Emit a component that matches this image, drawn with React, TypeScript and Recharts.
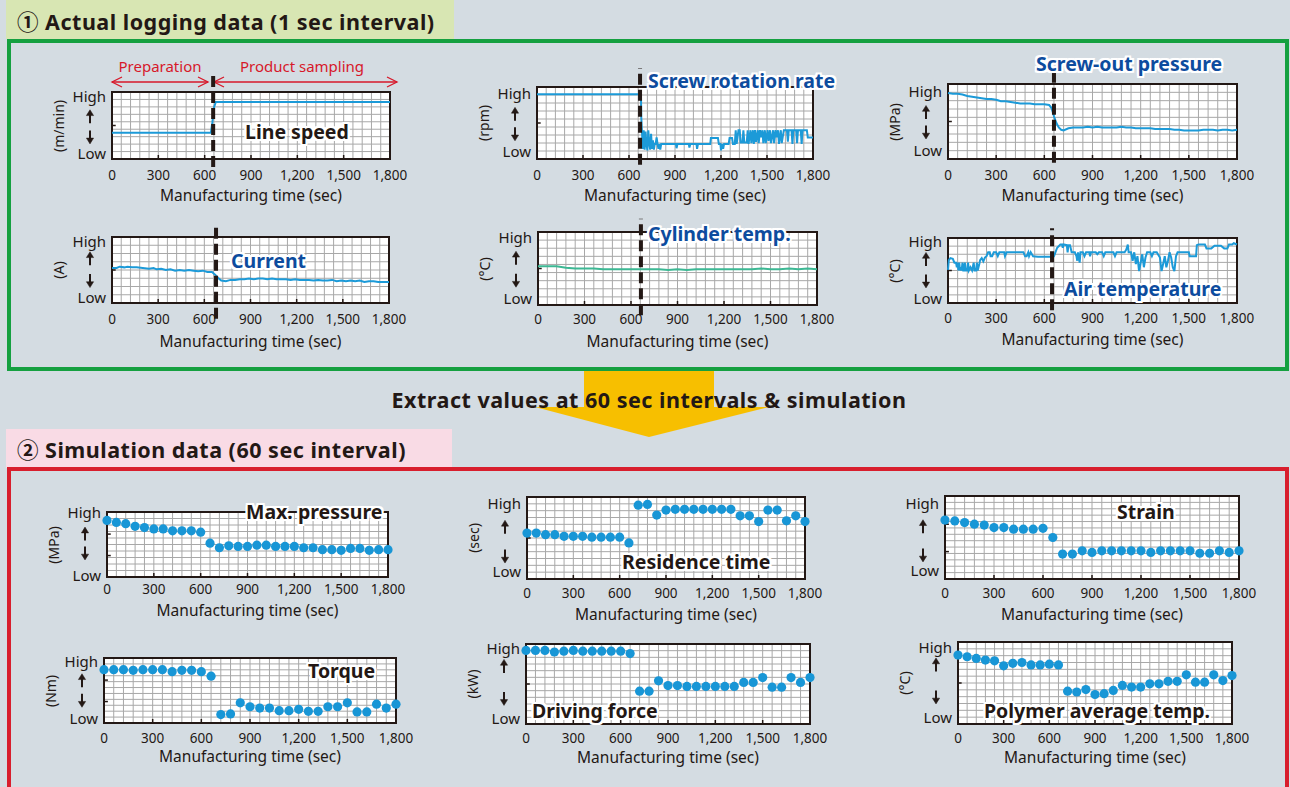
import React from 'react';
import { ComposedChart, Line, Scatter, XAxis, YAxis, CartesianGrid, ReferenceLine, ReferenceArea } from 'recharts';

const INK = '#231815';
const LINE_BLUE = '#1c9ad8';
const LINE_TEAL = '#3db894';
const DOT = '#1896d6';
const TITLE_BLUE = '#0d4c9e';
const FONT = '"Noto Sans", "Noto Sans CJK JP", sans-serif';

const xTicks = [0, 300, 600, 900, 1200, 1500, 1800];

// logging series, [sec, level] with 0 = Low and 100 = High
const lineSpeed: [number, number][] = [[0, 39], [640, 39], [650, 55], [662, 78], [672, 85], [1800, 85]];

const screwRate: [number, number][] = [
  [0, 90], [678, 90], [680, 58], [684, 40], [690, 14], [696, 40], [702, 13], [708, 38], [714, 20], [720, 12],
  [726, 40], [732, 22], [738, 13], [744, 35], [750, 14], [756, 26], [762, 13], [768, 21], [774, 21], [780, 30],
  [786, 21], [792, 14], [798, 21], [804, 13], [810, 21], [906, 21], [910, 15], [916, 21], [990, 21], [994, 16],
  [1000, 21], [1040, 21], [1044, 14], [1050, 21], [1130, 21], [1134, 29], [1180, 29], [1186, 21], [1196, 21],
  [1200, 12], [1208, 21], [1214, 14], [1220, 21], [1250, 21], [1256, 29], [1272, 29], [1278, 21], [1290, 21],
  [1296, 40], [1302, 21], [1314, 40], [1322, 40], [1328, 23], [1340, 23], [1346, 40], [1352, 23], [1368, 23],
  [1374, 40], [1380, 21], [1392, 40], [1398, 22], [1408, 40], [1414, 21], [1422, 40], [1428, 24], [1440, 40],
  [1446, 22], [1454, 40], [1460, 30], [1470, 40], [1476, 22], [1486, 40], [1492, 22], [1504, 40], [1510, 25],
  [1520, 40], [1526, 22], [1540, 40], [1546, 22], [1556, 40], [1562, 30], [1572, 40], [1578, 21], [1590, 40],
  [1596, 22], [1610, 40], [1630, 40], [1636, 24], [1642, 40], [1660, 40], [1666, 21], [1672, 40], [1690, 40],
  [1696, 22], [1702, 40], [1720, 40], [1726, 21], [1732, 40], [1760, 40], [1766, 30], [1800, 30],
];

const screwOut: [number, number][] = [
  [0, 88], [30, 87], [60, 87], [90, 86], [120, 84], [150, 83], [180, 82], [210, 81], [240, 80], [270, 80],
  [300, 79], [330, 77], [360, 77], [390, 76], [420, 75], [450, 74], [480, 74], [510, 74], [540, 73], [570, 73],
  [600, 73], [630, 72], [645, 68], [660, 57], [675, 48], [690, 42], [705, 39], [720, 38], [750, 41], [780, 42],
  [810, 42], [840, 42], [870, 43], [900, 42], [930, 43], [960, 42], [990, 42], [1020, 42], [1050, 42], [1080, 43],
  [1110, 42], [1140, 42], [1170, 41], [1200, 41], [1230, 41], [1260, 41], [1290, 40], [1320, 40], [1350, 40],
  [1380, 40], [1410, 39], [1440, 39], [1470, 38], [1500, 38], [1530, 38], [1560, 38], [1590, 39], [1620, 39],
  [1650, 39], [1680, 38], [1710, 39], [1740, 39], [1770, 38], [1800, 39],
];

const current: [number, number][] = [
  [0, 53], [30, 53], [50, 55], [80, 54], [100, 55], [130, 54], [160, 54], [200, 53], [240, 52], [270, 53],
  [290, 51], [320, 52], [350, 50], [380, 51], [410, 49], [440, 50], [470, 49], [500, 50], [530, 49], [560, 48],
  [590, 49], [620, 47], [650, 47], [670, 43], [690, 38], [710, 34], [740, 33], [770, 35], [800, 35], [830, 36],
  [860, 36], [890, 37], [920, 36], [950, 37], [980, 37], [1010, 36], [1040, 37], [1070, 36], [1100, 36], [1130, 36],
  [1160, 35], [1190, 36], [1220, 35], [1250, 35], [1280, 35], [1310, 34], [1340, 35], [1370, 34], [1400, 34],
  [1430, 35], [1460, 33], [1490, 34], [1520, 33], [1550, 34], [1580, 33], [1610, 34], [1640, 32], [1670, 33],
  [1700, 33], [1730, 32], [1760, 32], [1800, 32],
];

const cylinderTemp: [number, number][] = [
  [0, 53], [60, 53], [120, 53], [150, 52], [180, 51], [240, 50], [300, 50], [360, 50], [420, 49], [480, 49],
  [540, 49], [600, 49], [660, 49], [720, 49], [780, 49], [840, 48], [900, 49], [960, 48], [1020, 49], [1080, 49],
  [1140, 49], [1200, 49], [1260, 49], [1320, 49], [1380, 49], [1440, 50], [1500, 49], [1560, 49], [1620, 50],
  [1680, 49], [1740, 50], [1800, 49],
];

const airTemp: [number, number][] = [
  [0, 51], [5, 66], [15, 69], [30, 68], [40, 62], [50, 62], [55, 55], [60, 62], [65, 50], [70, 62], [75, 50],
  [80, 55], [85, 50], [90, 62], [95, 50], [100, 50], [105, 62], [110, 50], [120, 50], [125, 62], [130, 50],
  [140, 55], [150, 50], [160, 62], [165, 50], [175, 50], [180, 62], [185, 50], [195, 60], [200, 66], [210, 69],
  [220, 64], [230, 70], [240, 72], [250, 78], [260, 78], [265, 72], [275, 72], [285, 78], [300, 78], [310, 72],
  [320, 78], [350, 78], [355, 72], [365, 78], [440, 78], [470, 78], [480, 72], [490, 72], [500, 78], [505, 72],
  [515, 78], [530, 72], [560, 71], [640, 71], [650, 72], [660, 72], [680, 85], [700, 90], [710, 90], [715, 85],
  [720, 90], [740, 89], [745, 78], [750, 89], [760, 89], [770, 78], [790, 78], [800, 72], [805, 65], [810, 78],
  [820, 62], [825, 78], [840, 78], [850, 72], [860, 78], [880, 78], [885, 72], [890, 78], [920, 78], [930, 75],
  [940, 78], [960, 78], [970, 72], [980, 78], [1030, 78], [1040, 72], [1050, 78], [1100, 78], [1110, 82],
  [1120, 90], [1125, 78], [1140, 78], [1150, 65], [1160, 78], [1170, 60], [1180, 72], [1190, 49], [1200, 62],
  [1210, 75], [1220, 55], [1230, 70], [1240, 78], [1260, 78], [1270, 72], [1280, 78], [1300, 78], [1320, 70],
  [1330, 49], [1340, 60], [1350, 72], [1360, 55], [1370, 65], [1380, 78], [1390, 70], [1400, 55], [1410, 49],
  [1420, 72], [1430, 78], [1500, 78], [1505, 72], [1545, 72], [1550, 89], [1560, 90], [1600, 90], [1610, 84],
  [1640, 84], [1660, 88], [1700, 88], [1720, 84], [1740, 84], [1750, 90], [1770, 90], [1780, 92], [1800, 90],
];

// simulation results every 60 sec
const simTime = [0, 60, 120, 180, 240, 300, 360, 420, 480, 540, 600, 660, 720, 780, 840, 900, 960, 1020, 1080, 1140, 1200, 1260, 1320, 1380, 1440, 1500, 1560, 1620, 1680, 1740, 1800];
const maxPressure = [87, 84, 82, 78, 76, 74, 74, 71, 71, 71, 69, 52, 45, 48, 47, 47, 49, 49, 47, 47, 47, 45, 45, 42, 42, 41, 44, 44, 41, 42, 42];
const residenceTime = [56, 56, 54, 54, 52, 52, 52, 51, 51, 51, 51, 44, 90, 91, 78, 84, 85, 85, 85, 85, 85, 85, 85, 77, 77, 70, 84, 84, 71, 77, 70];
const strain = [71, 70, 68, 66, 65, 62, 62, 60, 60, 60, 61, 50, 30, 30, 34, 32, 34, 34, 34, 34, 34, 32, 34, 34, 34, 34, 31, 31, 34, 32, 34];
const torque = [82, 82, 82, 81, 82, 82, 82, 79, 81, 81, 79, 72, 13, 14, 31, 25, 23, 23, 19, 19, 21, 18, 18, 25, 25, 31, 17, 17, 29, 23, 29];
const drivingForce = [92, 92, 92, 90, 91, 92, 91, 91, 91, 91, 91, 88, 41, 41, 54, 48, 48, 47, 47, 47, 47, 47, 47, 52, 52, 58, 46, 46, 58, 52, 58];
const polymerTemp = [84, 82, 80, 78, 77, 71, 74, 75, 72, 72, 73, 72, 40, 39, 42, 36, 37, 41, 47, 45, 45, 49, 49, 52, 52, 60, 51, 51, 60, 53, 59];

const PADL = 72, PADT = 34, PADR = 24, PADB = 50;

type PanelDef = {
  x: number; y: number; w: number; h: number; rows: number;
  unit?: string; tickGap: number; titleGap: number; hl: number;
  arrows: [number, number]; marks: number[];
  cut?: [number, number, number];
};

const pair = (vals: number[]): [number, number][] => vals.map((v, i) => [simTime[i], v]);

// small up / down arrow between the High and Low labels
function Arrow({ cx, cy, up }: { cx: number; cy: number; up: boolean }) {
  const s = up ? -1 : 1;
  return (
    <g fill={INK} stroke={INK}>
      <line x1={cx} y1={cy - s * 6.5} x2={cx} y2={cy + s * 2} strokeWidth={2} />
      <polygon points={`${cx},${cy + s * 7} ${cx - 3.6},${cy + s * 1.2} ${cx + 3.6},${cy + s * 1.2}`} strokeWidth={0.5} />
    </g>
  );
}

function Panel({ def, series, mode, color }: { def: PanelDef; series: [number, number][]; mode: 'line' | 'dots'; color: string }) {
  const { x, y, w, h } = def;
  const W = w + PADL + PADR;
  const H = h + PADT + PADB;
  const data = series.map(([t, v]) => ({ t, v }));
  const vPts: number[] = [];
  for (let s = 0; s <= 1800; s += 60) vPts.push(PADL + (s / 1800) * w);
  const hPts: number[] = [];
  for (let i = 0; i <= def.rows; i++) hPts.push(PADT + (i * h) / def.rows);
  const tickLen = (4 / h) * 100;

  return (
    <div style={{ position: 'absolute', left: x - PADL, top: y - PADT, width: W, height: H }}>
      <ComposedChart width={W} height={H} data={data} margin={{ top: PADT, right: PADR, bottom: 0, left: 0 }}>
        <CartesianGrid fill="#fff" stroke="#a8a8a8" strokeWidth={1} verticalPoints={vPts} horizontalPoints={hPts} />
        <XAxis
          dataKey="t" type="number" domain={[0, 1800]} ticks={xTicks} interval={0} height={PADB}
          tickSize={0} tickMargin={def.tickGap} axisLine={false} tickLine={false}
          tick={{ fontSize: 13.5, fill: INK, fontFamily: FONT }}
          tickFormatter={(v: number) => v.toLocaleString('en-US')}
          label={{ value: 'Manufacturing time (sec)', position: 'insideBottom', offset: def.titleGap, fontSize: 15.5, fill: INK, fontFamily: FONT }}
        />
        <YAxis
          dataKey="v" type="number" domain={[0, 100]} allowDataOverflow ticks={[0, 100]} width={PADL}
          tickSize={0} tickMargin={6} axisLine={false} tickLine={false}
          tick={(p: any) => (
            <text x={p.x} y={p.y + (p.payload.value === 100 ? def.hl : -def.hl)} dy="0.35em" textAnchor="end" fontSize={15} fill={INK} fontFamily={FONT}>
              {p.payload.value === 100 ? 'High' : 'Low'}
            </text>
          )}
        />
        <ReferenceArea x1={0} x2={1800} y1={0} y2={100} fill="none" stroke={INK} strokeWidth={2} ifOverflow="visible" />
        {xTicks.slice(1, -1).map((t) => (
          <ReferenceLine key={`xt${t}`} segment={[{ x: t, y: 0 }, { x: t, y: tickLen }]} stroke={INK} strokeWidth={1.5} ifOverflow="visible" />
        ))}
        {def.marks.map((m) => (
          <ReferenceLine key={`ym${m}`} segment={[{ x: 0, y: m }, { x: 24, y: m }]} stroke={INK} strokeWidth={1.5} ifOverflow="visible" />
        ))}
        {mode === 'line' ? (
          <Line dataKey="v" type="linear" stroke={color} strokeWidth={2} dot={false} isAnimationActive={false} />
        ) : (
          <Scatter dataKey="v" fill={color} isAnimationActive={false}
            shape={(p: any) => <circle cx={p.cx} cy={p.cy} r={4.6} fill={color} />} />
        )}
        {def.cut && (
          <ReferenceLine segment={[{ x: def.cut[0], y: def.cut[1] }, { x: def.cut[0], y: def.cut[2] }]}
            stroke={INK} strokeWidth={4} strokeDasharray="11 5" ifOverflow="visible" />
        )}
      </ComposedChart>
      <svg style={{ position: 'absolute', left: 0, top: 0, pointerEvents: 'none' }} width={PADL} height={H}>
        <Arrow cx={PADL - 22} cy={PADT + h * def.arrows[0]} up />
        <Arrow cx={PADL - 22} cy={PADT + h * def.arrows[1]} up={false} />
      </svg>
      {def.unit && (
        <div style={{ position: 'absolute', left: PADL - 53, top: PADT + h / 2, transform: 'translate(-50%, -50%) rotate(-90deg)', fontFamily: FONT, fontSize: 14, color: INK, whiteSpace: 'nowrap', lineHeight: 1 }}>
          {def.unit}
        </div>
      )}
    </div>
  );
}

const halo = '2px 0 0 #fff, -2px 0 0 #fff, 0 2px 0 #fff, 0 -2px 0 #fff, 2px 2px 0 #fff, -2px -2px 0 #fff, 2px -2px 0 #fff, -2px 2px 0 #fff, 0 0 3px #fff';

function Title({ text, x, y, color }: { text: string; x: number; y: number; color: string }) {
  return (
    <div style={{ position: 'absolute', left: x, top: y, transform: 'translateY(-50%)', fontFamily: FONT, fontWeight: 700, fontSize: 19.5, color, textShadow: halo, whiteSpace: 'nowrap', lineHeight: 1.1 }}>
      {text}
    </div>
  );
}

const topRow: PanelDef[] = [
  { x: 112, y: 92, w: 278, h: 67, rows: 9, unit: '(m/min)', tickGap: 11, titleGap: 8, hl: 5, arrows: [0.37, 0.67], marks: [50], cut: [655, -12, 130] },
  { x: 537, y: 87, w: 276, h: 72, rows: 9, unit: '(rpm)', tickGap: 11, titleGap: 8, hl: 7, arrows: [0.38, 0.65], marks: [50], cut: [672, -8, 126] },
  { x: 948, y: 84, w: 289, h: 75, rows: 9, unit: '(MPa)', tickGap: 11, titleGap: 8, hl: 8, arrows: [0.38, 0.64], marks: [50], cut: [660, -5, 115] },
  { x: 112, y: 237, w: 277, h: 66, rows: 8, unit: '(A)', tickGap: 11, titleGap: 6, hl: 5, arrows: [0.33, 0.66], marks: [50], cut: [676, -24, 118] },
  { x: 538, y: 232, w: 279, h: 73, rows: 9, unit: '(°C)', tickGap: 9, titleGap: 8, hl: 6, arrows: [0.36, 0.66], marks: [50], cut: [664, -14, 118] },
  { x: 948, y: 238, w: 289, h: 65, rows: 8, unit: '(°C)', tickGap: 10, titleGap: 8, hl: 4, arrows: [0.33, 0.66], marks: [50], cut: [648, -11, 115] },
];

const bottomRow: PanelDef[] = [
  { x: 107, y: 512, w: 281, h: 65, rows: 10, unit: '(MPa)', tickGap: 7, titleGap: 11, hl: 1, arrows: [0.34, 0.63], marks: [66, 33] },
  { x: 527, y: 497, w: 278, h: 82, rows: 12, unit: '(sec)', tickGap: 9, titleGap: 9, hl: 7, arrows: [0.37, 0.72], marks: [50] },
  { x: 945, y: 496, w: 294, h: 83, rows: 13, tickGap: 9, titleGap: 9, hl: 8, arrows: [0.37, 0.71], marks: [66, 33] },
  { x: 104, y: 658, w: 292, h: 65, rows: 11, unit: '(Nm)', tickGap: 10, titleGap: 11, hl: 4, arrows: [0.35, 0.65], marks: [66, 33] },
  { x: 526, y: 644, w: 284, h: 80, rows: 12, unit: '(kW)', tickGap: 9, titleGap: 11, hl: 5, arrows: [0.28, 0.68], marks: [50] },
  { x: 958, y: 642, w: 274, h: 82, rows: 12, unit: '(°C)', tickGap: 9, titleGap: 11, hl: 6, arrows: [0.28, 0.67], marks: [50] },
];

export default function App() {
  const red = '#d7182a';
  const headStyle: React.CSSProperties = { position: 'absolute', fontWeight: 700, fontSize: 21.5, letterSpacing: 0.5, whiteSpace: 'nowrap' };
  return (
    <div style={{ position: 'absolute', left: 0, top: 0, width: 1290, height: 787, overflow: 'hidden', background: '#d4dce2', fontFamily: FONT, color: INK }}>
      {/* section 1 */}
      <div style={{ position: 'absolute', left: 6, top: 0, width: 448, height: 39, background: '#d8e6b3' }} />
      <div style={{ ...headStyle, left: 17, top: 20, transform: 'translateY(-50%)' }}>
        ① Actual logging data (1 sec interval)
      </div>
      <div style={{ position: 'absolute', left: 7, top: 39, width: 1282, height: 332, border: '4.5px solid #15a040', boxSizing: 'border-box' }} />

      {/* hand-off arrow */}
      <svg style={{ position: 'absolute', left: 0, top: 0 }} width={1290} height={787}>
        <polygon points="584,371 714,371 714,407 769,407 649,437 535,407 584,407" fill="#f7bf00" />
      </svg>
      <div style={{ ...headStyle, left: 649, top: 399, transform: 'translate(-50%, -50%)' }}>
        Extract values at 60 sec intervals &amp; simulation
      </div>

      {/* section 2 */}
      <div style={{ position: 'absolute', left: 6, top: 429, width: 446, height: 39, background: '#f9dbe5' }} />
      <div style={{ ...headStyle, left: 17, top: 448, transform: 'translateY(-50%)' }}>
        ② Simulation data (60 sec interval)
      </div>
      <div style={{ position: 'absolute', left: 7, top: 467, width: 1282, height: 340, border: '4.5px solid #d81e2d', boxSizing: 'border-box' }} />

      {/* phase annotation over line speed */}
      <svg style={{ position: 'absolute', left: 0, top: 0 }} width={420} height={100}>
        <g stroke={red} strokeWidth={1.3} fill="none">
          <line x1={112} y1={82} x2={208} y2={82} />
          <polyline points="122,77 112,82 122,87" />
          <polyline points="198,77 208,82 198,87" />
          <line x1={214} y1={82} x2={397} y2={82} />
          <polyline points="224,77 214,82 224,87" />
          <polyline points="387,77 397,82 387,87" />
        </g>
        <text x={160} y={72} textAnchor="middle" fontSize={15} fill={red} fontFamily={FONT}>Preparation</text>
        <text x={302} y={72} textAnchor="middle" fontSize={15} fill={red} fontFamily={FONT}>Product sampling</text>
      </svg>

      <Panel def={topRow[0]} series={lineSpeed} mode="line" color={LINE_BLUE} />
      <Panel def={topRow[1]} series={screwRate} mode="line" color={LINE_BLUE} />
      <Panel def={topRow[2]} series={screwOut} mode="line" color={LINE_BLUE} />
      <Panel def={topRow[3]} series={current} mode="line" color={LINE_BLUE} />
      <Panel def={topRow[4]} series={cylinderTemp} mode="line" color={LINE_TEAL} />
      <Panel def={topRow[5]} series={airTemp} mode="line" color={LINE_BLUE} />

      <Panel def={bottomRow[0]} series={pair(maxPressure)} mode="dots" color={DOT} />
      <Panel def={bottomRow[1]} series={pair(residenceTime)} mode="dots" color={DOT} />
      <Panel def={bottomRow[2]} series={pair(strain)} mode="dots" color={DOT} />
      <Panel def={bottomRow[3]} series={pair(torque)} mode="dots" color={DOT} />
      <Panel def={bottomRow[4]} series={pair(drivingForce)} mode="dots" color={DOT} />
      <Panel def={bottomRow[5]} series={pair(polymerTemp)} mode="dots" color={DOT} />

      <Title text="Line speed" x={245} y={132} color={INK} />
      <Title text="Screw rotation rate" x={648} y={81} color={TITLE_BLUE} />
      <Title text="Screw-out pressure" x={1036} y={64} color={TITLE_BLUE} />
      <Title text="Current" x={231} y={261} color={TITLE_BLUE} />
      <Title text="Cylinder temp." x={648} y={234} color={TITLE_BLUE} />
      <Title text="Air temperature" x={1064} y={289} color={TITLE_BLUE} />
      <Title text="Max. pressure" x={246} y={512} color={INK} />
      <Title text="Residence time" x={622} y={562} color={INK} />
      <Title text="Strain" x={1117} y={512} color={INK} />
      <Title text="Torque" x={308} y={671} color={INK} />
      <Title text="Driving force" x={532} y={711} color={INK} />
      <Title text="Polymer average temp." x={984} y={711} color={INK} />
    </div>
  );
}
